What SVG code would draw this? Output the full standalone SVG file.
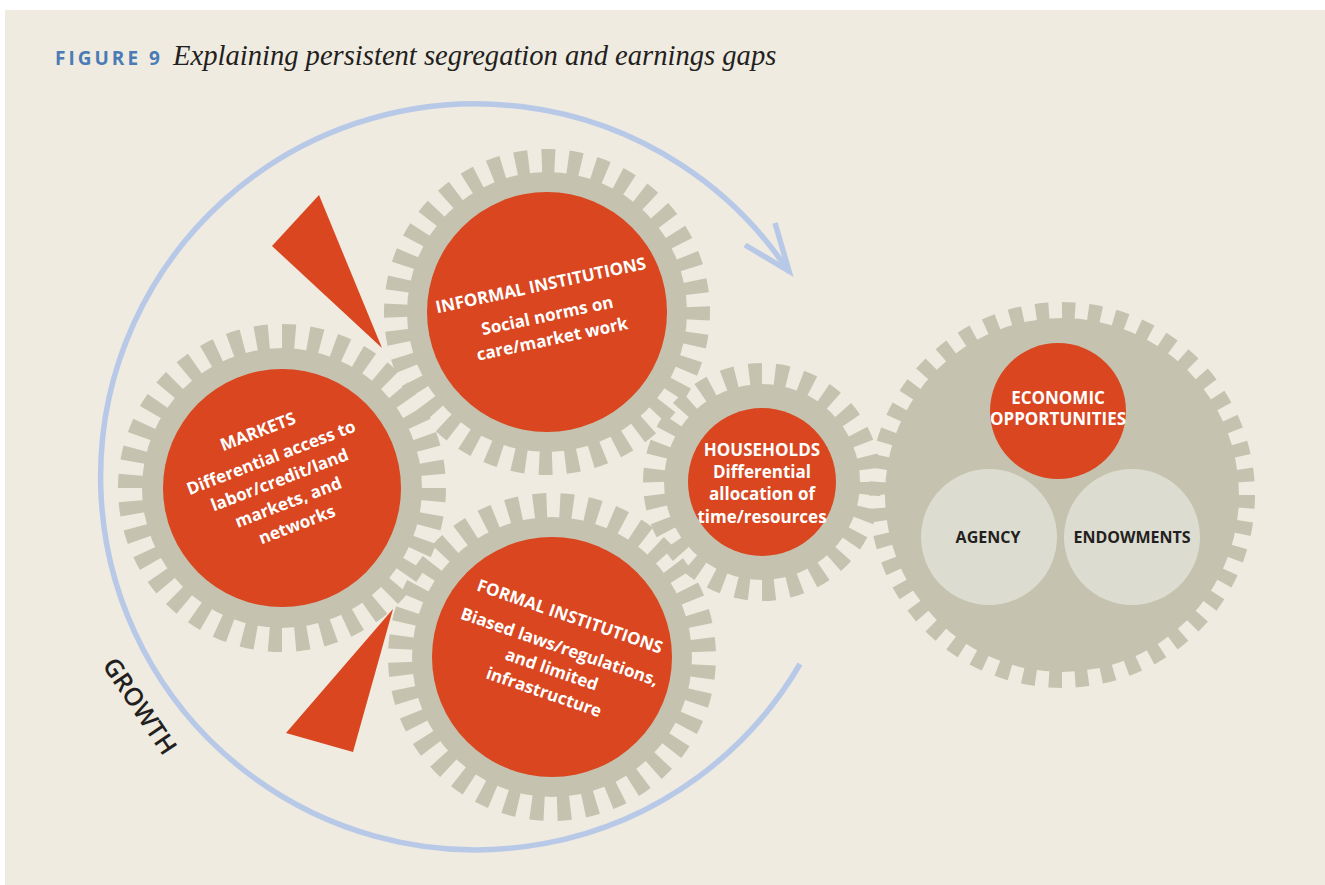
<svg xmlns="http://www.w3.org/2000/svg" width="1325" height="885" viewBox="0 0 1325 885">
<style>
.bg{fill:#EFEBE1}
.gb{fill:#C5C3AF}
.tt{fill:none;stroke:#C5C3AF}
.red{fill:#D9461F}
.lt{fill:#DCDCD0}
.wt{font-family:"Open Sans","Noto Sans",sans-serif;font-weight:700;font-size:17px;fill:#FFFFFF;text-anchor:middle}
.dk{font-family:"Open Sans","Noto Sans",sans-serif;font-weight:700;font-size:16px;fill:#231F20;text-anchor:middle}
.flow{fill:none;stroke:#B8C9E8;stroke-width:5.5}
</style>
<rect x="0" y="0" width="1325" height="885" fill="#FFFFFF"/>
<rect class="bg" x="5" y="10" width="1320" height="875"/>
<g id="title">
<text x="55" y="65" font-family="Open Sans, Noto Sans, sans-serif" font-weight="700" font-size="19" letter-spacing="3" fill="#4B7BB5">FIGURE 9</text>
<text x="173" y="65" font-family="Liberation Serif, serif" font-style="italic" font-size="28.6" fill="#231F20">Explaining persistent segregation and earnings gaps</text>
</g>
<g id="connectors">
<path class="flow" d="M 800 664 A 375 373 0 1 1 789 272"/>
<path class="flow" stroke-width="6" stroke-linejoin="miter" stroke-miterlimit="10" d="M 775 223 L 789 271 L 745 245"/>
</g>
<g id="gear-markets">
<circle class="gb" cx="282" cy="488" r="140"/>
<circle class="tt" cx="282" cy="488" r="151" stroke-width="26" pathLength="360" stroke-dasharray="5 5"/>
<circle class="red" cx="282" cy="488" r="119"/>
<g transform="translate(260,437) rotate(-21)">
<text class="wt" x="0" y="0">MARKETS</text>
<text class="wt" x="3" y="29">Differential access to</text>
<text class="wt" x="3" y="53">labor/credit/land</text>
<text class="wt" x="3" y="77">markets, and</text>
<text class="wt" x="3" y="101">networks</text>
</g>
</g>
<g id="gear-informal">
<circle class="gb" cx="547" cy="312" r="140"/>
<circle class="tt" cx="547" cy="312" r="150.5" stroke-width="25" pathLength="360" stroke-dasharray="5 5" stroke-dashoffset="2"/>
<circle class="red" cx="547" cy="312" r="120"/>
<g transform="translate(542,291) rotate(-12)">
<text class="wt" x="0" y="0">INFORMAL INSTITUTIONS</text>
<text class="wt" x="0" y="31">Social norms on</text>
<text class="wt" x="0" y="55">care/market work</text>
</g>
</g>
<g id="gear-formal">
<circle class="gb" cx="552" cy="657" r="140"/>
<circle class="tt" cx="552" cy="657" r="151" stroke-width="26" pathLength="360" stroke-dasharray="5 5" stroke-dashoffset="7"/>
<circle class="red" cx="552" cy="657" r="120"/>
<g transform="translate(568,622) rotate(19)">
<text class="wt" x="0" y="0">FORMAL INSTITUTIONS</text>
<text class="wt" x="0" y="32">Biased laws/regulations,</text>
<text class="wt" x="0" y="56">and limited</text>
<text class="wt" x="0" y="80">infrastructure</text>
</g>
</g>
<g id="gear-households">
<circle class="gb" cx="762" cy="482" r="98"/>
<circle class="tt" cx="762" cy="482" r="107.5" stroke-width="23" pathLength="360" stroke-dasharray="6.9 6.946"/>
<circle class="red" cx="762" cy="482" r="74"/>
<text class="wt" x="762" y="456" font-size="16.5">HOUSEHOLDS</text>
<text class="wt" x="762" y="478" font-size="15.5">Differential</text>
<text class="wt" x="762" y="500" font-size="15.5">allocation of</text>
<text class="wt" x="762" y="523" font-size="15.5">time/resources</text>
</g>
<g id="gear-outcomes">
<circle class="gb" cx="1062" cy="495" r="177"/>
<circle class="tt" cx="1062" cy="495" r="184" stroke-width="18" pathLength="360" stroke-dasharray="4.1 4.0818"/>
<g id="economic-opportunities">
<circle class="red" cx="1058" cy="411" r="68"/>
<text class="wt" x="1058" y="404" font-size="15.2">ECONOMIC</text>
<text class="wt" x="1058" y="425" font-size="15.2">OPPORTUNITIES</text>
</g>
<g id="agency">
<circle class="lt" cx="989" cy="537" r="68"/>
<text class="dk" x="988" y="543">AGENCY</text>
</g>
<g id="endowments">
<circle class="lt" cx="1132" cy="537" r="68"/>
<text class="dk" x="1132" y="543">ENDOWMENTS</text>
</g>
</g>
<g id="wedges">
<polygon class="red" points="319,195 272,246 382,348"/>
<polygon class="red" points="393,609 286,733 353,752"/>
</g>
<g id="growth-label">
<text transform="translate(140,706) rotate(56)" x="0" y="9" font-family="Open Sans, Noto Sans, sans-serif" font-weight="600" font-size="25" fill="#231F20" text-anchor="middle">GROWTH</text>
</g>
</svg>
